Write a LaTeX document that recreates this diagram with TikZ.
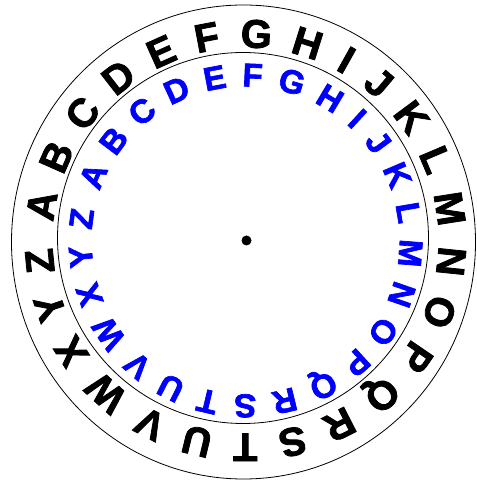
\documentclass[tikz,border=0pt]{standalone}
\usepackage{fontspec}
\setmainfont{Liberation Sans}
\newfontfamily\wheelfont{Liberation Sans Bold}[FakeBold=2]
\usetikzlibrary{calc}
\definecolor{wheelblue}{RGB}{0,0,255}
\begin{document}
\begin{tikzpicture}[x=1pt,y=1pt,
 outerletter/.style={anchor=base,inner sep=0pt,text=black,font=\fontsize{40}{40}\wheelfont},
 innerletter/.style={anchor=base,inner sep=0pt,text=wheelblue,font=\fontsize{33}{33}\wheelfont},
 ring/.style={draw=black,line width=0.8pt}]
\useasboundingbox (0,0) rectangle (476,481);
\coordinate (c) at (245.5,240.5);
\draw[ring] (243.5,239) ellipse [x radius=232, y radius=237];
\draw[ring] (243,243) circle [radius=185.5];
\fill (246.5,240.5) circle [radius=5];
\foreach \L/\o in {A/0,B/14.13,C/28.26,D/42.39,E/56.23,F/69.49,G/83.33,H/97.76,I/109.56,J/120.49,K/133.75,L/147.30,M/161.43,N/176.14,O/190.56,P/204.70,Q/218.83,R/233.26,S/247.10,T/260.36,U/273.90,V/287.75,W/302.75,X/317.76,Y/331.31,Z/344.57} {
  \node[outerletter,rotate=170.3-\o-90] (o\L) at ($(c)+(170.3-\o:193)$) {\L};
  \node[innerletter,rotate=157-\o-90] (i\L) at ($(c)+(157-\o:154)$) {\L};
}
\end{tikzpicture}
\end{document}
